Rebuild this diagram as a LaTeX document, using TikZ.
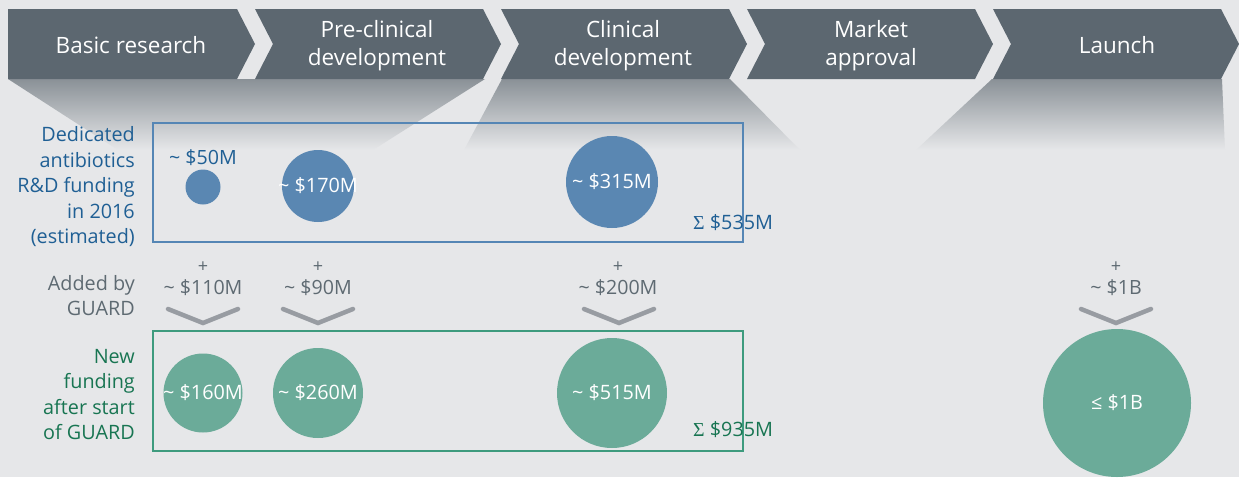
\documentclass[tikz,border=0pt]{standalone}
\usepackage{fontspec}
\setmainfont{Open Sans}
\newfontfamily\sigfont{Liberation Serif}
\definecolor{bg}{HTML}{E6E7E9}
\definecolor{chevc}{HTML}{5C6770}
\definecolor{shadec}{HTML}{8A9197}
\definecolor{bluec}{HTML}{5A87B2}
\definecolor{blueline}{HTML}{5586B5}
\definecolor{bluet}{HTML}{1F5F94}
\definecolor{greenc}{HTML}{6BAB99}
\definecolor{greenline}{HTML}{3E9B7E}
\definecolor{greent}{HTML}{187552}
\definecolor{greyt}{HTML}{5E6A72}
\definecolor{vmc}{HTML}{989CA2}
\tikzset{
  chev/.style={fill=chevc},
  chevtxt/.style={text=white, font=\fontsize{22.5}{28}\selectfont, align=center, inner sep=0},
  lbl/.style={font=\fontsize{19.8}{25.5}\selectfont, align=right, anchor=east, inner sep=0},
  bub/.style={circle, inner sep=0, minimum size=#1},
  bubtxt/.style={text=white, font=\fontsize{19.8}{22}\selectfont, inner sep=0},
  amt/.style={text=greyt, font=\fontsize{19.6}{22}\selectfont, inner sep=0},
  plus/.style={text=greyt, font=\fontsize{18}{20}\selectfont, inner sep=0},
  vmark/.style={draw=vmc, line width=4.5pt, line cap=round, line join=miter},
  sumlbl/.style={font=\fontsize{19.8}{24}\selectfont, anchor=west, inner sep=0},
  funnel/.style={top color=shadec, bottom color=bg, draw=none},
}
\begin{document}
\begin{tikzpicture}[x=1pt,y=-1pt]
\useasboundingbox (0,0) rectangle (1239,477);
\fill[bg] (0,0) rectangle (1239,477);
% funnels
\shade[funnel] (8,79) -- (485,79) -- (373,150) -- (118,150) -- cycle;
\shade[funnel] (502,79) -- (730,79) -- (800,150) -- (464,150) -- cycle;
\shade[funnel] (992,79) -- (1222,79) -- (1225,150) -- (916,150) -- cycle;
% chevrons
\fill[chev] (8,9) -- (237,9) -- (255,44) -- (237,79) -- (8,79) -- cycle;
\foreach \i in {1,2,3,4}{
  \pgfmathsetmacro{\L}{9+246*\i}
  \pgfmathsetmacro{\R}{237+246*\i}
  \fill[chev] (\L,9) -- (\R,9) -- (\R+18,44) -- (\R,79) -- (\L,79) -- (\L+18,44) -- cycle;
}
\node[chevtxt] (p1) at (131,45) {Basic research};
\node[chevtxt] (p2) at (377,46) {Pre-clinical\\development};
\node[chevtxt] (p3) at (623,46) {Clinical\\development};
\node[chevtxt] (p4) at (871,46) {Market\\approval};
\node[chevtxt] (p5) at (1117,45) {Launch};
% boxes
\draw[blueline, line width=1.3pt] (153,123) rectangle (743,242);
\draw[greenline, line width=1.3pt] (153,331) rectangle (743,451);
% left labels
\node[lbl, text=bluet] (l1) at (135,187) {Dedicated\\antibiotics\\R\&D funding\\in 2016\\(estimated)};
\node[lbl, text=greyt] (l2) at (135,295.5) {Added by\\GUARD};
\node[lbl, text=greent] (l3) at (135,394.5) {New\\funding\\after start\\of GUARD};
% blue bubbles
\node[bub=35, fill=bluec] (b1) at (203,187) {};
\node[bub=72, fill=bluec] (b2) at (318,186) {};
\node[bub=92, fill=bluec] (b3) at (612,182) {};
\node[amt, text=bluet] (b1t) at (203,158) {\textasciitilde{} \$50M};
\node[bubtxt] (b2t) at (b2) {\textasciitilde{} \$170M};
\node[bubtxt] (b3t) at (b3) {\textasciitilde{} \$315M};
\node[sumlbl, text=bluet] (s1) at (693,223) {{\sigfont Σ} \$535M};
% added
\node[plus] (a1p) at (203,267) {+};
\node[plus] (a2p) at (318,267) {+};
\node[plus] (a3p) at (618,267) {+};
\node[plus] (a4p) at (1116,267) {+};
\node[amt] (a1) at (203,288) {\textasciitilde{} \$110M};
\node[amt] (a2) at (318,288) {\textasciitilde{} \$90M};
\node[amt] (a3) at (618,288) {\textasciitilde{} \$200M};
\node[amt] (a4) at (1116,288) {\textasciitilde{} \$1B};
\draw[vmark] (168,309) -- (203,323) -- (238,309);
\draw[vmark] (283,309) -- (318,323) -- (353,309);
\draw[vmark] (584,309) -- (619,323) -- (654,309);
\draw[vmark] (1081,309) -- (1116,323) -- (1151,309);
% green bubbles
\node[bub=79, fill=greenc] (g1) at (203,393) {};
\node[bub=90, fill=greenc] (g2) at (318,393) {};
\node[bub=110, fill=greenc] (g3) at (612,393) {};
\node[bub=148, fill=greenc] (g4) at (1117,403) {};
\node[bubtxt] (g1t) at (g1) {\textasciitilde{} \$160M};
\node[bubtxt] (g2t) at (g2) {\textasciitilde{} \$260M};
\node[bubtxt] (g3t) at (g3) {\textasciitilde{} \$515M};
\node[bubtxt] (g4t) at (g4) {≤ \$1B};
\node[sumlbl, text=greent] (s2) at (693,430) {{\sigfont Σ} \$935M};
\end{tikzpicture}
\end{document}
